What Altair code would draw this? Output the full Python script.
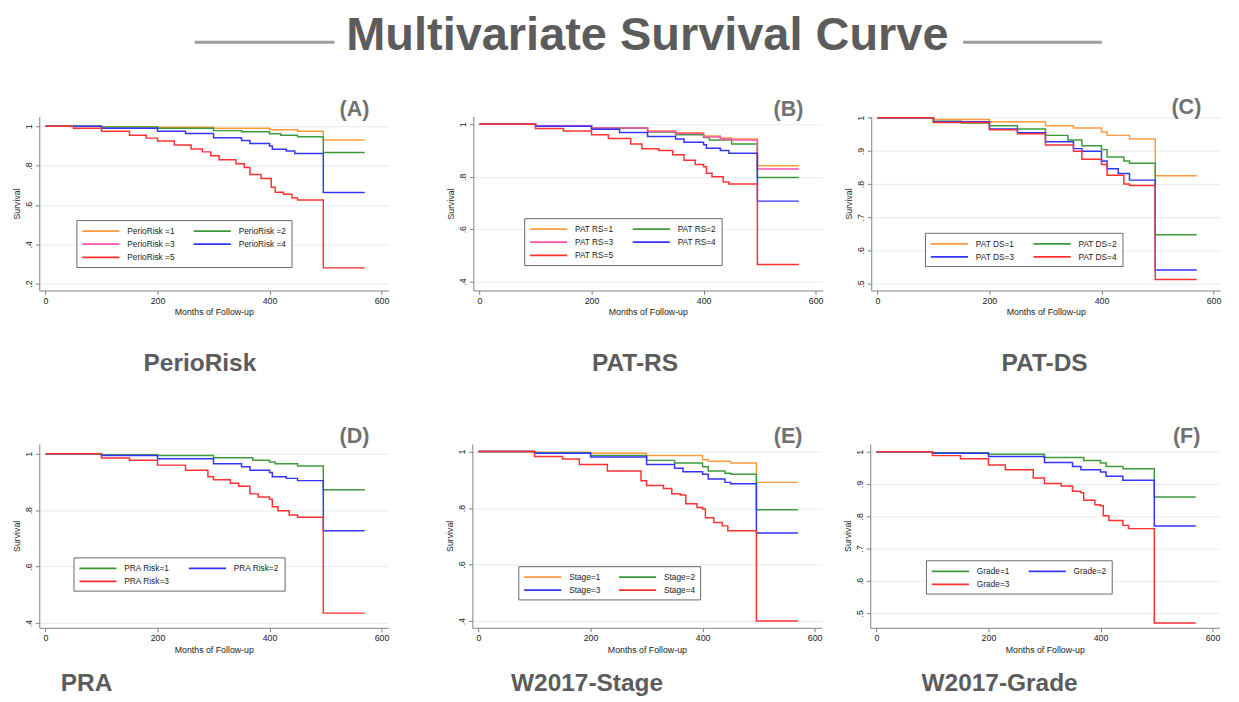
import altair as alt
import pandas as pd

TITLE = "Multivariate Survival Curve"
X_TICKS = [0, 200, 400, 600]
X_TITLE = "Months of Follow-up"
Y_TITLE = "Survival"

ORANGE = "#ff9a3c"
GREEN = "#3c9a3c"
PINK = "#ff4fb0"
BLUE = "#3434ff"
RED = "#ff3030"

# ---------- Panel A: PerioRisk ----------
A_LABELS = ["PerioRisk =1", "PerioRisk =2", "PerioRisk =3", "PerioRisk =4", "PerioRisk =5"]
A1_T = [0, 100, 200, 300, 400, 450, 496, 570]
A1_S = [1, .998, .995, .99, .982, .975, .93, .93]
A2_T = [0, 100, 200, 300, 350, 400, 420, 450, 496, 570]
A2_S = [1, .997, .99, .978, .972, .962, .955, .947, .867, .867]
A4_T = [0, 100, 200, 250, 300, 350, 365, 400, 405, 430, 445, 496, 570]
A4_S = [1, .99, .975, .963, .942, .928, .913, .9, .883, .875, .862, .663, .663]
A5_T = [0, 50, 100, 150, 180, 200, 230, 260, 280, 295, 310, 340, 355, 365, 385, 403, 410, 425, 440, 450, 496, 570]
A5_S = [1, .99, .975, .955, .94, .925, .905, .885, .87, .85, .83, .81, .79, .755, .735, .69, .665, .655, .635, .625, .28, .28]

# ---------- Panel B: PAT-RS ----------
B_LABELS = ["PAT RS=1", "PAT RS=2", "PAT RS=3", "PAT RS=4", "PAT RS=5"]
B1_T = [0, 100, 200, 300, 350, 400, 430, 450, 496, 570]
B1_S = [1, .995, .987, .975, .968, .956, .948, .944, .842, .842]
B2_T = [0, 100, 200, 300, 350, 400, 410, 450, 496, 570]
B2_S = [1, .994, .985, .971, .96, .95, .94, .925, .797, .797]
B3_T = [0, 100, 200, 300, 350, 400, 430, 450, 496, 570]
B3_S = [1, .995, .986, .973, .965, .952, .944, .94, .83, .83]
B4_T = [0, 100, 200, 250, 300, 350, 365, 400, 405, 430, 445, 496, 570]
B4_S = [1, .993, .981, .969, .954, .944, .932, .922, .909, .9, .89, .707, .707]
B5_T = [0, 100, 150, 200, 230, 270, 290, 320, 345, 365, 385, 400, 405, 415, 435, 445, 496, 570]
B5_S = [1, .984, .975, .96, .946, .925, .907, .9, .884, .863, .847, .838, .813, .8, .78, .772, .465, .465]

# ---------- Panel C: PAT-DS ----------
C_LABELS = ["PAT DS=1", "PAT DS=2", "PAT DS=3", "PAT DS=4"]
C1_T = [0, 100, 200, 300, 350, 400, 410, 450, 496, 570]
C1_S = [1, .995, .988, .976, .969, .957, .947, .936, .825, .825]
C2_T = [0, 100, 150, 200, 250, 300, 340, 365, 400, 410, 440, 450, 496, 570]
C2_S = [1, .99, .984, .976, .966, .947, .933, .916, .904, .882, .87, .863, .647, .647]
C3_T = [0, 100, 200, 250, 300, 350, 365, 400, 410, 430, 450, 496, 570]
C3_S = [1, .988, .966, .955, .928, .907, .899, .87, .846, .832, .812, .541, .541]
C4_T = [0, 100, 200, 250, 300, 350, 365, 400, 410, 440, 450, 496, 570]
C4_S = [1, .986, .964, .952, .918, .899, .875, .859, .827, .8, .796, .512, .512]

# ---------- Panel D: PRA ----------
D_LABELS = ["PRA Risk=1", "PRA Risk=2", "PRA Risk=3"]
D1_T = [0, 100, 200, 300, 370, 400, 410, 450, 496, 570]
D1_S = [1, .997, .994, .986, .977, .971, .965, .957, .873, .873]
D2_T = [0, 100, 200, 300, 350, 365, 400, 405, 430, 450, 496, 570]
D2_S = [1, .994, .983, .965, .954, .942, .934, .919, .913, .905, .727, .727]
D3_T = [0, 100, 150, 200, 250, 290, 300, 330, 345, 365, 380, 400, 405, 415, 435, 450, 496, 570]
D3_S = [1, .985, .977, .96, .942, .919, .908, .896, .885, .858, .847, .839, .812, .798, .783, .775, .435, .435]

# ---------- Panel E: W2017-Stage ----------
E_LABELS = ["Stage=1", "Stage=2", "Stage=3", "Stage=4"]
E1_T = [0, 100, 200, 300, 400, 410, 450, 496, 570]
E1_S = [1, .998, .994, .986, .971, .966, .96, .891, .891]
E2_T = [0, 100, 200, 300, 350, 400, 410, 440, 450, 496, 570]
E2_S = [1, .996, .986, .969, .96, .946, .931, .923, .92, .794, .794]
E3_T = [0, 100, 200, 300, 350, 365, 400, 410, 440, 450, 496, 570]
E3_S = [1, .994, .981, .954, .941, .929, .92, .903, .891, .886, .712, .712]
E4_T = [0, 100, 150, 180, 230, 290, 300, 330, 345, 360, 370, 390, 400, 405, 420, 435, 445, 496, 570]
E4_S = [1, .983, .974, .954, .931, .897, .88, .869, .851, .846, .815, .802, .797, .766, .749, .737, .72, .4, .4]

# ---------- Panel F: W2017-Grade ----------
F_LABELS = ["Grade=1", "Grade=2", "Grade=3"]
F1_T = [0, 100, 200, 300, 370, 400, 410, 440, 496, 570]
F1_S = [1, .997, .992, .982, .973, .965, .954, .947, .86, .86]
F2_T = [0, 100, 200, 300, 350, 365, 400, 410, 440, 496, 570]
F2_S = [1, .995, .985, .967, .954, .944, .937, .924, .912, .77, .77]
F3_T = [0, 100, 150, 200, 230, 280, 300, 330, 350, 365, 370, 390, 400, 405, 415, 440, 450, 496, 570]
F3_S = [1, .988, .978, .959, .944, .919, .902, .894, .878, .873, .85, .836, .833, .802, .787, .772, .762, .47, .47]

BOLD_FONT = "Liberation Sans, Arial, Helvetica, sans-serif"
BASE_FONT = "Liberation Sans, Arial, sans-serif"
GREY_TEXT = "#5c5c5c"
LEGEND_LINE = "M-1,0H6.6"   # long horizontal stroke for the legend keys


def build_df(curves):
    rows = []
    for lab, ts, ss in curves:
        for t, s in zip(ts, ss):
            rows.append({"t": t, "s": s, "g": lab})
    return pd.DataFrame(rows)


def panel(curves, labels, colors, ydom, yticks, height, tag, legx, legy):
    df = build_df(curves)
    chart = alt.Chart(df).mark_line(interpolate="step-after", strokeWidth=1.5).encode(
        x=alt.X("t:Q", title=X_TITLE,
                scale=alt.Scale(domain=[-11, 612], nice=False, zero=False),
                axis=alt.Axis(values=X_TICKS, grid=False, labelPadding=2, titlePadding=3)),
        y=alt.Y("s:Q", title=Y_TITLE,
                scale=alt.Scale(domain=ydom, nice=False, zero=False),
                axis=alt.Axis(values=yticks, grid=True, labelAngle=-90,
                              labelAlign="center", labelBaseline="bottom",
                              labelPadding=2, titlePadding=3,
                              labelExpr="replace(format(datum.value, '~g'), '0.', '.')")),
        color=alt.Color("g:N",
                        scale=alt.Scale(domain=labels, range=colors),
                        legend=alt.Legend(orient="none", legendX=legx, legendY=legy,
                                          columns=2, direction="horizontal", title=None,
                                          symbolType=LEGEND_LINE, symbolSize=100,
                                          symbolStrokeWidth=1.8,
                                          labelFontSize=8.5, labelFont=BASE_FONT,
                                          labelColor="#222", labelOffset=35,
                                          columnPadding=15, rowPadding=2.5,
                                          padding=5, strokeColor="#666",
                                          fillColor="white")),
    ).properties(
        width=357, height=height,
        title=alt.TitleParams(tag, anchor="end", dx=-20, fontSize=22, font=BOLD_FONT,
                              fontWeight="bold", color="#717171", offset=-4),
    )
    return chart


def wrap(ch, name, dx, off):
    return alt.vconcat(
        ch,
        title=alt.TitleParams(name, orient="bottom", anchor="middle", dx=dx, fontSize=25,
                              font=BOLD_FONT, fontWeight="bold", color=GREY_TEXT, offset=off),
    ).resolve_scale(color="independent", x="independent", y="independent")


def indep(c):
    return c.resolve_scale(color="independent", x="independent", y="independent").resolve_legend(color="independent")


pA = panel([(A_LABELS[0], A1_T, A1_S), (A_LABELS[1], A2_T, A2_S),
            (A_LABELS[3], A4_T, A4_S), (A_LABELS[4], A5_T, A5_S)],
           A_LABELS, [ORANGE, GREEN, PINK, BLUE, RED], [0.165, 1.05], [0.2, 0.4, 0.6, 0.8, 1],
           178, "(A)", 38, 106)
pB = panel([(B_LABELS[0], B1_T, B1_S), (B_LABELS[1], B2_T, B2_S), (B_LABELS[2], B3_T, B3_S),
            (B_LABELS[3], B4_T, B4_S), (B_LABELS[4], B5_T, B5_S)],
           B_LABELS, [ORANGE, GREEN, PINK, BLUE, RED], [0.366, 1.03], [0.4, 0.6, 0.8, 1],
           178, "(B)", 52, 104)
pC = panel([(C_LABELS[0], C1_T, C1_S), (C_LABELS[1], C2_T, C2_S), (C_LABELS[2], C3_T, C3_S),
            (C_LABELS[3], C4_T, C4_S)],
           C_LABELS, [ORANGE, GREEN, BLUE, RED], [0.479, 1.004], [0.5, 0.6, 0.7, 0.8, 0.9, 1],
           178, "(C)", 55, 119)
pD = panel([(D_LABELS[0], D1_T, D1_S), (D_LABELS[1], D2_T, D2_S), (D_LABELS[2], D3_T, D3_S)],
           D_LABELS, [GREEN, BLUE, RED], [0.383, 1.035], [0.4, 0.6, 0.8, 1],
           188, "(D)", 35, 116)
pE = panel([(E_LABELS[0], E1_T, E1_S), (E_LABELS[1], E2_T, E2_S), (E_LABELS[2], E3_T, E3_S),
            (E_LABELS[3], E4_T, E4_S)],
           E_LABELS, [ORANGE, GREEN, BLUE, RED], [0.376, 1.027], [0.4, 0.6, 0.8, 1],
           188, "(E)", 47, 125)
pF = panel([(F_LABELS[0], F1_T, F1_S), (F_LABELS[1], F2_T, F2_S), (F_LABELS[2], F3_T, F3_S)],
           F_LABELS, [GREEN, BLUE, RED], [0.455, 1.024], [0.5, 0.6, 0.7, 0.8, 0.9, 1],
           188, "(F)", 57, 119)

row1 = indep(alt.hconcat(indep(alt.hconcat(wrap(pA, "PerioRisk", -1, 35), wrap(pB, "PAT-RS", 0, 35), spacing=58)),
                         wrap(pC, "PAT-DS", 12, 35), spacing=22))
row2 = indep(alt.hconcat(indep(alt.hconcat(wrap(pD, "PRA", -117, 18), wrap(pE, "W2017-Stage", -48, 18), spacing=58)),
                         wrap(pF, "W2017-Grade", -33, 18), spacing=22))

hdr_df = pd.DataFrame({"txt": [TITLE]})
htext = alt.Chart(hdr_df).mark_text(font=BOLD_FONT, fontSize=48, fontWeight="bold",
                                    color=GREY_TEXT, baseline="alphabetic", align="center").encode(
    x=alt.value(622), y=alt.value(34), text="txt:N")
hruleL = alt.Chart(hdr_df).mark_rule(color="#9c9c9c", strokeWidth=3).encode(
    x=alt.value(159), x2=alt.value(302), y=alt.value(26))
hruleR = alt.Chart(hdr_df).mark_rule(color="#9c9c9c", strokeWidth=3).encode(
    x=alt.value(945), x2=alt.value(1087), y=alt.value(26))
header = alt.layer(htext, hruleL, hruleR).properties(width=1214, height=50)

rows = indep(alt.vconcat(row1, row2, spacing=51, center=False))
chart = indep(alt.vconcat(header, rows, spacing=31, center=False))
chart = chart.configure_view(strokeWidth=0).configure_axis(
    domainColor="#808080", tickColor="#808080", tickSize=4, gridColor="#e4ecef",
    labelFont=BASE_FONT, labelFontSize=9, labelColor="#222",
    titleFont=BASE_FONT, titleFontSize=9, titleFontWeight="normal", titleColor="#222",
).properties(background="white", padding={"left": 5, "top": -3, "right": 5, "bottom": 0})

chart.save("out.html", embed_options={"renderer": "svg", "actions": False})
